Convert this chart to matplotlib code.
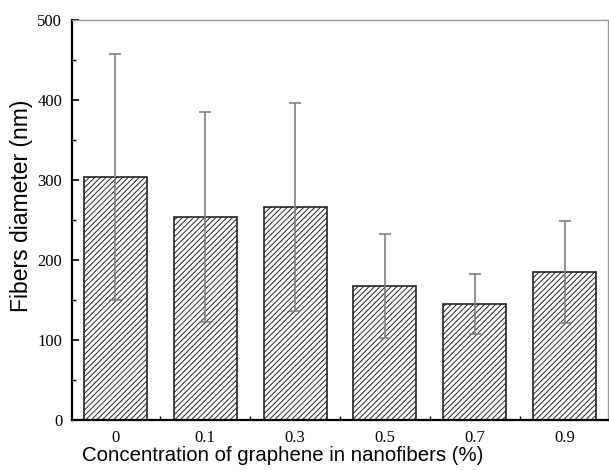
import numpy as np
import matplotlib
matplotlib.use('Agg')
import matplotlib.pyplot as plt
from matplotlib.ticker import MultipleLocator

# values
concentrations = ['0', '0.1', '0.3', '0.5', '0.7', '0.9']
diameters = [304, 254, 266, 167, 145, 185]
errors = [154, 131, 130, 65, 38, 64]

plt.rcParams['hatch.linewidth'] = 0.7
plt.rcParams['hatch.color'] = '#333333'

fig = plt.figure(figsize=(6.09, 4.70), dpi=100)
ax = fig.add_axes([0.1182, 0.1064, 0.8802, 0.851])

x = np.arange(len(concentrations))
ax.bar(x, diameters, width=0.7, color='white', edgecolor='#222222',
       linewidth=1.2, hatch='//////', zorder=2)
ax.errorbar(x, diameters, yerr=errors, fmt='none', ecolor='#808080',
            elinewidth=1.2, capsize=4, capthick=1.2, zorder=3)

ax.set_xlim(-0.48, 5.48)
ax.set_ylim(0, 500)
ax.set_xticks(x)
ax.set_xticklabels(concentrations)
ax.xaxis.set_minor_locator(MultipleLocator(1, offset=0.5))
ax.yaxis.set_major_locator(MultipleLocator(100))
ax.yaxis.set_minor_locator(MultipleLocator(50))

ax.tick_params(which='major', direction='in', length=5, width=1.2,
               pad=7, labelsize=12)
ax.tick_params(which='minor', direction='in', length=3, width=1)
ax.tick_params(axis='x', which='both', top=False)
ax.tick_params(axis='y', which='both', right=False)
for lab in ax.get_xticklabels() + ax.get_yticklabels():
    lab.set_fontfamily('Liberation Serif')

ax.spines['left'].set_linewidth(1.6)
ax.spines['bottom'].set_linewidth(1.6)
ax.spines['top'].set_color('#999999')
ax.spines['right'].set_color('#999999')
ax.spines['top'].set_linewidth(1.0)
ax.spines['right'].set_linewidth(1.0)

ax.set_xlabel('Concentration of graphene in nanofibers (%)',
              fontfamily='Liberation Sans', fontsize=14.7)
ax.set_ylabel('Fibers diameter (nm)', fontfamily='Liberation Sans',
              fontsize=16.5)
ax.xaxis.set_label_coords(0.393, -0.065)
ax.yaxis.set_label_coords(-0.095, 0.535)
ax.yaxis.label.set_verticalalignment('center')

fig.savefig('out.png', dpi=100)
